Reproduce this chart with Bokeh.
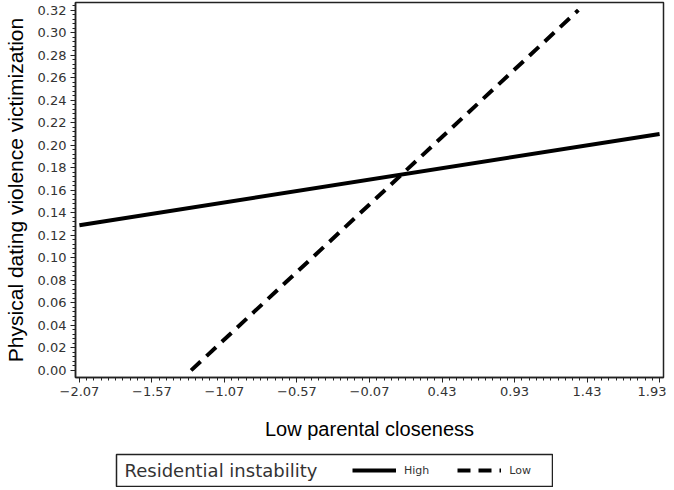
import numpy as np
from bokeh.plotting import figure
from bokeh.layouts import column, row
from bokeh.models import (Range1d, FixedTicker, CustomJSTickFormatter, Legend,
                          LegendItem, NumeralTickFormatter, Label, Spacer)
from bokeh.embed import file_html
from bokeh.resources import INLINE

# ---- data ----
x_ticks = [-2.07, -1.57, -1.07, -0.57, -0.07, 0.43, 0.93, 1.43, 1.93]
y_ticks = [0.00, 0.02, 0.04, 0.06, 0.08, 0.10, 0.12, 0.14, 0.16,
           0.18, 0.20, 0.22, 0.24, 0.26, 0.28, 0.30, 0.32]

high_x = [-2.07, 1.93]
high_y = [0.129, 0.210]

low_x = [-1.30, 1.37]
low_y = [0.000, 0.320]

series_names = ["High", "Low"]
legend_title = "Residential instability"
x_title = "Low parental closeness"
y_title = "Physical dating violence victimization"

HIGH_STYLE = dict(line_color="black", line_width=4)
LOW_STYLE = dict(line_color="black", line_width=4, line_dash="13 8")

p = figure(width=666, height=442, output_backend="svg", toolbar_location=None,
           x_range=Range1d(-2.097, 1.957), y_range=Range1d(-0.0063, 0.3268),
           min_border_left=72, min_border_right=3, min_border_top=2,
           min_border_bottom=0)
p.background_fill_color = "white"
p.xgrid.visible = False
p.ygrid.visible = False
p.outline_line_color = "#222222"
p.outline_line_width = 1.5

p.line(high_x, high_y, **HIGH_STYLE)
p.line(low_x, low_y, **LOW_STYLE)

x_minor = [round(v, 3) for v in np.arange(-2.07, 1.93 + 1e-9, 0.05)]
y_minor = [round(v, 4) for v in np.arange(0.0, 0.324 + 1e-9, 0.004)]
p.xaxis.ticker = FixedTicker(ticks=x_ticks, minor_ticks=x_minor)
p.yaxis.ticker = FixedTicker(ticks=y_ticks, minor_ticks=y_minor)
p.xaxis.formatter = CustomJSTickFormatter(code="return tick.toFixed(2).replace('-', '\\u2212');")
p.yaxis.formatter = NumeralTickFormatter(format="0.00")

for ax in (p.xaxis, p.yaxis):
    ax.axis_line_color = "#222222"
    ax.axis_line_width = 1.5
    ax.major_tick_in = 0
    ax.minor_tick_in = 0
    ax.major_tick_out = 5
    ax.minor_tick_out = 3
    ax.major_tick_line_color = "#222222"
    ax.minor_tick_line_color = "#222222"
    ax.major_label_text_font = "DejaVu Sans"
    ax.major_label_text_font_size = "13px"
    ax.major_label_text_color = "#333333"
    ax.major_label_standoff = 4
    ax.axis_label_text_font = "Liberation Sans"
    ax.axis_label_text_font_style = "normal"
    ax.axis_label_text_color = "black"

p.xaxis.axis_label = x_title
p.yaxis.axis_label = y_title
p.xaxis.axis_label_text_font_size = "20px"
p.yaxis.axis_label_text_font_size = "21px"
p.xaxis.axis_label_standoff = 19
p.yaxis.axis_label_standoff = 8

# ---- legend box below the chart ----
# legend figure's ranges keep the sample renderers' data out of view,
# so only their legend glyphs show
lg = figure(width=438, height=34, output_backend="svg", toolbar_location=None,
            x_range=Range1d(10, 11), y_range=Range1d(10, 11),
            x_axis_type=None, y_axis_type=None, min_border=1)
lg.xgrid.visible = False
lg.ygrid.visible = False
lg.outline_line_color = "#222222"
lg.outline_line_width = 1.5
lr_high = lg.line(high_x, high_y, **HIGH_STYLE)
lr_low = lg.line(low_x, low_y, **LOW_STYLE)

lg.add_layout(Label(x=8, y=16, x_units="screen", y_units="screen",
                    text=legend_title, text_font="DejaVu Sans",
                    text_font_size="18px", text_color="#333333",
                    text_baseline="middle"))

legend = Legend(items=[LegendItem(label=series_names[0], renderers=[lr_high]),
                       LegendItem(label=series_names[1], renderers=[lr_low])],
                orientation="horizontal", location=(236, 8))
legend.border_line_color = None
legend.background_fill_alpha = 0
legend.label_text_font = "DejaVu Sans"
legend.label_text_font_size = "11px"
legend.label_text_color = "#333333"
legend.glyph_width = 44
legend.glyph_height = 16
legend.label_standoff = 8
legend.spacing = 28
legend.padding = 0
legend.margin = 0
lg.add_layout(legend, "center")

layout = column(p, Spacer(height=11), row(Spacer(width=115), lg))

open("out.html", "w").write(file_html(layout, INLINE))
